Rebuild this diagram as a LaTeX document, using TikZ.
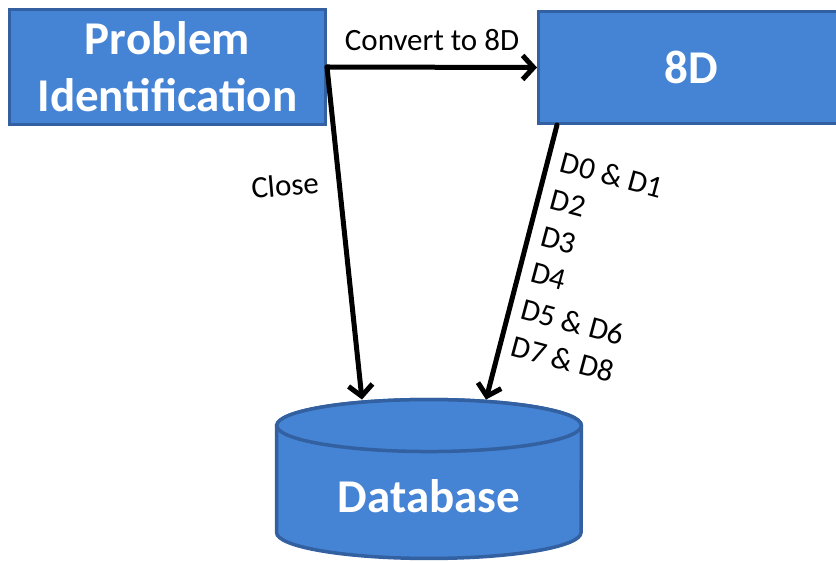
\documentclass[tikz,border=0pt]{standalone}
\usepackage{fontspec}
\setmainfont{Carlito}
\usetikzlibrary{arrows.meta}
\definecolor{boxblue}{RGB}{69,132,212}
\definecolor{boxedge}{RGB}{50,96,160}

\begin{document}
\begin{tikzpicture}[
    x=1pt, y=1pt,
    >={Straight Barb[length=11pt, width=24pt]},
    box/.style={draw=boxedge, fill=boxblue, line width=3pt, text=white, align=center,
        font=\fontsize{47}{57}\selectfont\bfseries},
    arrow/.style={->, line width=5pt, line cap=round, line join=round},
    lbl/.style={font=\fontsize{31}{38}\selectfont, inner sep=0pt},
    dbshape/.style={draw=boxedge, fill=boxblue, line width=3.5pt}
]
\useasboundingbox (0,0) rectangle (836,562);

%% ============================================================
%% PROCESS BOXES
%% ============================================================
\node[box, minimum width=316pt, minimum height=115pt] (pi) at (167.5,495) {Problem\\Identification};
\node[box, minimum width=305pt, minimum height=112pt] (dd) at (691,494.5) {8D};

%% --- Database cylinder ---
\node[minimum width=304.5pt, minimum height=158.5pt, inner sep=0pt] (db) at (429,83) {};
\draw[dbshape] ([yshift=-26pt]db.north west) -- ([yshift=26pt]db.south west)
    arc[start angle=180, end angle=360, x radius=152.25pt, y radius=26pt]
    -- ([yshift=-26pt]db.north east)
    arc[start angle=0, end angle=180, x radius=152.25pt, y radius=26pt] -- cycle;
\draw[dbshape] ([yshift=-26pt]db.north) ellipse[x radius=152.25pt, y radius=26pt];
\node[box, draw=none, fill=none] (dbtext) at ([yshift=-17pt]db.center) {Database};

%% ============================================================
%% FLOWS
%% ============================================================
\draw[arrow] (pi.east) -- node[lbl, above=14pt] {Convert to 8D} (dd.west);
\draw[arrow] (pi.east) -- ([xshift=-67pt]db.north);
\draw[arrow] ([xshift=20pt]dd.south west) -- ([xshift=57pt]db.north);

\node[lbl, rotate=5] (close) at (285,377) {Close};
\node[lbl, rotate=-15, align=left] (steps) at (587.5,295) {D0 \& D1\\D2\\D3\\D4\\D5 \& D6\\D7 \& D8};

\end{tikzpicture}
\end{document}
